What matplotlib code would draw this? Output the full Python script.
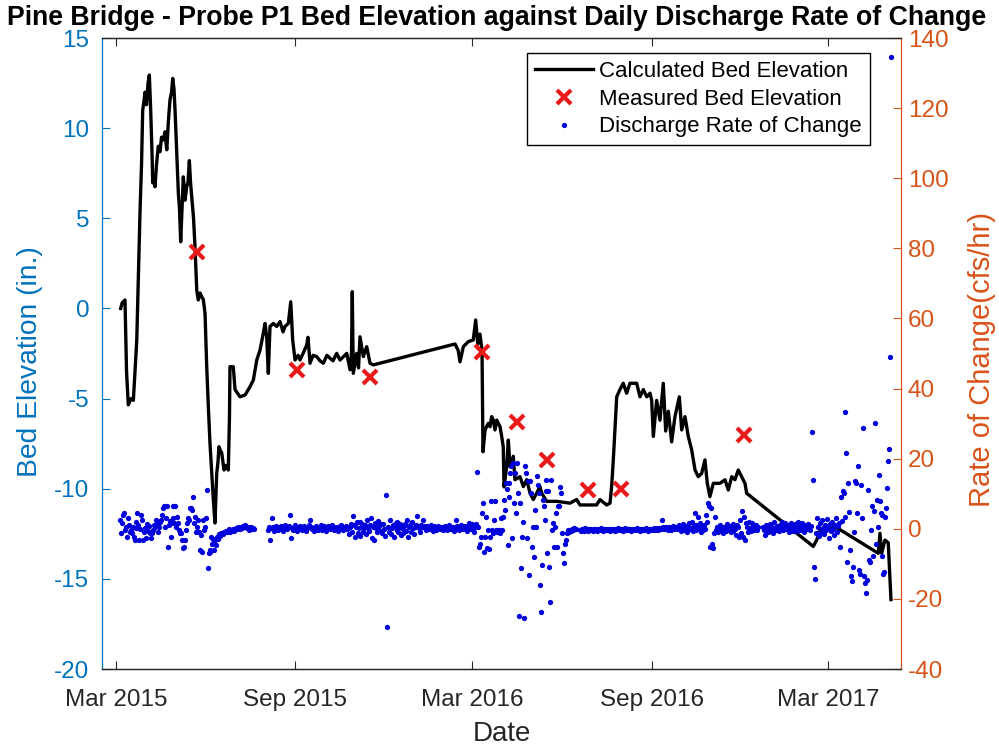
import numpy as np
import matplotlib
matplotlib.use("Agg")
import matplotlib.pyplot as plt
import matplotlib.dates as mdates
from datetime import date

plt.rcParams['font.family'] = ['Liberation Sans', 'DejaVu Sans']
plt.rcParams['axes.unicode_minus'] = False

BLUE_AX = (0.0, 0.447, 0.741)
ORANGE_AX = (0.85, 0.325, 0.098)
DARK = (0.15, 0.15, 0.15)

# ── calculated bed elevation (days since 2015-03-01, inches) ──
bed_day = [4.8, 6.2, 9.2, 10.8, 12.6, 15.4, 17.8, 19.5, 21.3, 23.1,
           24.6, 26.2, 27.4, 28.7, 29.8, 31.3, 32.9, 34.2, 35.6, 37.0,
           37.7, 39.0, 40.0, 41.6, 43.4, 45.2, 46.7, 48.6, 50.3, 52.1,
           53.9, 55.4, 57.0, 58.2, 59.5, 60.6, 62.1, 64.0, 65.2, 66.4,
           67.8, 69.1, 70.8, 72.6, 73.9, 75.3, 76.5, 77.7, 79.6, 81.1,
           82.9, 84.5, 86.2, 88.0, 89.6, 91.4, 93.1, 94.8, 96.5, 98.3,
           99.9, 101.6, 103.4, 104.7, 105.7, 107.3, 108.5, 110.9, 112.9, 115.3,
           116.5, 117.0, 120.4, 122.2, 127.3, 132.5, 137.6, 141.0, 144.5, 147.9,
           151.2, 153.0, 154.7, 156.4, 158.1, 161.5, 165.0, 168.4, 171.5, 173.5,
           176.9, 179.4, 181.4, 183.8, 186.9, 188.9, 192.0, 195.8, 197.1, 199.2,
           202.3, 206.1, 209.4, 212.8, 216.6, 219.7, 222.8, 226.6, 230.0, 233.1,
           236.9, 240.3, 241.8, 242.6, 243.6, 247.1, 249.0, 250.5, 253.9, 257.4,
           260.8, 264.2, 348.1, 351.4, 353.2, 356.6, 361.7, 366.8, 369.3, 371.4,
           373.7, 375.8, 376.8, 378.9, 382.2, 384.0, 385.7, 387.4, 389.1, 390.9,
           394.3, 396.0, 397.6, 398.4, 401.1, 402.8, 404.5, 407.9, 409.6, 414.8,
           418.2, 421.7, 425.1, 428.4, 431.9, 435.3, 437.1, 442.2, 452.5, 466.1,
           473.0, 476.4, 493.5, 496.9, 503.8, 507.2, 508.9, 510.6, 514.1, 517.4,
           520.8, 524.3, 527.7, 531.1, 534.6, 538.0, 541.4, 544.9, 548.3, 550.0,
           551.7, 555.1, 558.5, 561.9, 564.4, 567.1, 570.5, 573.9, 578.4, 580.8,
           584.2, 587.6, 591.1, 594.5, 597.8, 601.3, 604.7, 607.1, 609.8, 613.3,
           620.1, 625.3, 628.7, 632.2, 635.5, 638.9, 642.4, 645.8, 647.5, 715.9,
           719.4, 722.8, 729.7, 738.2, 782.7, 784.4, 786.2, 789.5, 792.9, 795.7]
bed_elev = [0.0, 0.3, 0.47, -3.5, -5.35, -5.0, -5.1, -3.5, -1.75, 2.0,
            5.3, 8.0, 11.0, 11.5, 12.0, 11.3, 12.5, 12.95, 11.0, 8.5,
            6.96, 7.2, 6.75, 8.0, 9.0, 8.7, 9.5, 9.35, 9.8, 8.8,
            10.5, 11.56, 12.0, 12.76, 12.2, 11.0, 9.0, 6.4, 5.5, 3.7,
            5.5, 7.3, 6.0, 6.75, 7.0, 8.2, 7.0, 6.2, 5.0, 3.4,
            1.0, 0.47, 0.86, 0.65, 0.5, -0.27, -3.2, -5.45, -7.5, -9.15,
            -10.6, -11.9, -9.15, -8.5, -7.67, -7.9, -8.0, -8.96, -8.7, -8.96,
            -6.0, -3.23, -3.23, -4.5, -4.9, -4.8, -4.34, -3.97, -2.86, -2.3,
            -1.38, -0.83, -1.57, -3.6, -1.0, -0.83, -1.0, -0.73, -1.3, -1.0,
            -0.83, 0.37, -1.75, -2.86, -2.6, -2.86, -2.5, -2.03, -1.6, -3.04,
            -2.6, -2.67, -2.9, -3.04, -2.6, -2.76, -2.9, -2.49, -2.86, -2.7,
            -2.49, -3.4, -2.5, 0.93, -3.6, -2.49, -3.3, -1.57, -2.67, -2.12,
            -3.04, -3.13, -1.97, -2.34, -2.96, -2.12, -1.84, -1.75, -0.64, -1.97,
            -1.42, -2.34, -7.95, -6.74, -6.37, -6.56, -6.0, -6.19, -6.74, -6.19,
            -6.56, -7.1, -7.67, -9.9, -8.78, -7.3, -8.78, -8.2, -9.5, -9.33,
            -9.88, -9.5, -10.25, -10.6, -10.25, -9.88, -10.25, -10.7, -10.7, -10.8,
            -10.6, -10.9, -10.9, -10.6, -10.9, -10.8, -9.88, -8.4, -4.9, -4.5,
            -4.15, -4.7, -4.15, -4.15, -4.15, -4.9, -4.5, -4.9, -4.7, -5.1,
            -7.1, -5.1, -6.2, -4.15, -6.8, -5.7, -7.4, -6.0, -4.9, -6.74,
            -6.0, -7.1, -7.85, -8.96, -9.33, -9.15, -8.4, -9.7, -10.44, -9.7,
            -9.7, -9.5, -10.07, -9.33, -9.5, -8.96, -9.33, -9.7, -10.25, -13.2,
            -12.85, -12.3, -12.3, -12.1, -13.58, -12.47, -13.58, -12.85, -13.0, -16.15]

# ── measured bed elevation ──
meas_day = [82.9, 185.5, 260.8, 375.5, 411.4, 442.8, 485.0, 519.0, 645.0]
meas_elev = [3.15, -3.4, -3.8, -2.4, -6.3, -8.4, -10.05, -10.0, -7.0]

# ── daily discharge rate of change (cfs/hr), consecutive days from each start ──
rate_a_start = '2015-03-05'
rate_a = [2.6, -1.3, 1.6, 4.0, 4.4, -0.3, 0.6, -2.2, 3.0, 1.0, -1.0,
          -0.3, -1.3, 0.6, -2.2, -3.2, 0.2, 2.0, 4.4, 1.0, -3.2, 0.0,
          4.0, 2.6, -3.2, -1.0, 0.3, -2.7, 1.5, -0.5, 0.8, -1.3,
          -2.7, -1.3, -0.3, 1.1, 0.6, 2.6, 1.6, -0.8, 0.4, 2.0,
          2.6, 4.0, 6.0, 6.4, 0.6, 3.0, 6.4, -5.1, 1.0, 2.2,
          -2.2, 1.6, 6.4, 3.0, 1.6, 6.4, 0.6, 3.4, 1.6, -0.3, -1.3,
          -1.3, -3.2, -5.6, -5.1, -3.2, -0.3, 1.6, 3.0, 2.6, 6.0,
          6.0, 5.5, 9.2, 1.6, 3.4, -0.8, 0.6, 2.6, -1.0, -6.0,
          -1.8, -6.5, 2.6, -0.3, 0.6, 3.0, 11.0, -11.2, -7.0, -6.5, -6.0,
          -2.2, -4.2, -3.0, -6.0, -3.2, -4.5, -2.2, -3.0, -1.6, -2.0, -1.3,
          -1.2, -1.5, -0.8, -1.0, -0.6, -0.9, -0.5, -0.2, -0.8, -0.4,
          -0.3, 0.0, -0.5, -0.2, 0.3, 0.0, 0.4, 0.2, -0.2, 0.5,
          0.3, 0.8, 0.4, 1.0, 0.5, 0.2, 0.6, 0.1, -0.3, 0.2, 0.4, 0.0, 0.3, -0.2]

rate_b_start = '2015-08-04'
rate_b = [-0.3, 0.5, -3.2, 0.2, 3.0, 0.4, -0.6, 0.2, 0.8, 0.3, -0.4, 0.0, 0.6, 0.9, 0.2, -0.5, 0.1, 0.4, 1.0, 0.3,
          -0.2, 0.5, 0.8, 4.0, -2.6, 0.3, -0.4, 0.6, 1.0, 0.2, -0.6, -0.2, 0.4, 0.9, 0.1, -0.3, 0.3, 0.7, 0.0, -0.5,
          0.2, 0.6, 1.2, 2.6, 0.5, -0.2, 0.3, -0.6, 0.1, 0.8, 0.4, -0.4, 0.0, 0.6, 1.0, 0.2, -0.3, 0.5, 0.9, 0.1,
          -0.5, 0.2, 0.7, 0.3, -0.2, 0.4, 1.1, 0.5, -0.4, 0.0, 0.6, 0.2, -0.6, 0.3, 0.8, 1.2, 0.4, -0.3, 0.1, 0.6,
          0.9, -0.2, 0.3, -1.5, 0.5, 1.4, -0.8, 3.7, 1.0, -2.2, 0.4, 1.8, -1.2, 0.2, 2.0, -2.0, 0.6, 1.5, -0.9, 0.3,
          1.2, -1.6, 2.4, 0.1, -0.7, 1.0, 3.0, -2.7, 0.5, -3.2, 1.6, 0.2, -1.0, 2.2, 0.8, -0.5, 1.3, -1.3, 1.4, 0.0,
          -2.0, 9.5, -27.9, 0.6, -0.8, 2.4, -1.5, 0.3, 1.1, -2.2, 0.7, 1.6, -0.4, 2.0, -1.0, 0.5, 1.3, -1.8, 0.2, -1.3,
          0.8, 1.5, -0.6, 2.6, -2.2, 0.4, 1.0, -0.9, 1.8, 0.1, -1.4, 0.6, 1.2, 3.7, 0.9, 0.3, -0.8, 1.1, 0.5, 2.6,
          0.7, 0.2, -0.4, 0.9, 0.4, -0.1, 0.6, 1.0, 0.2, -0.5, 0.3, 0.8, 0.1, -0.3, 0.5, 0.9, 0.3, -0.2, 0.6, 0.2,
          -0.4, 0.4, 0.8, 0.1, -0.3, 0.5, 1.0, 0.3, -0.2, 0.6, 0.2, -0.5, 0.4, 2.6, 0.7, 0.0, -0.4, 0.5, 1.1, 0.3,
          -0.2, 0.6, 0.9, 0.2, -0.6, 0.3, 1.6, 0.5, 0.0, 0.8, 1.3, 0.2, -1.0, 0.6, 1.4]

rate_c_start = '2016-03-06'
rate_c = [16.3, 0.6, -5.1, -4.2, -2.2,
          4.4, 7.3, -6.5, -2.2, 3.4, -5.6, -0.3,
          -5.8, -2.2, 7.8, -0.3, -1.3,
          2.6, 7.8, -0.3, -0.8, -0.3,
          -0.3, -1.3, 3.0, -0.3,
          3.4, 8.3, 5.4, 13.0, 11.4, -4.7,
          9.2, 13.0, 15.9, 17.8, -2.7,
          18.7, 7.3, 15.9, 4.4, 18.7,
          10.2, -25.0, 7.3, -11.2, -2.2, 2.0, -25.4,
          17.8, 15.9, -2.7, 13.5,
          -13.2, 13.5, 10.2, -5.1, 0.6,
          -8.0, 5.4, 0.6, 15.0,
          12.5, 10.2, -16.0, -23.6, -10.3,
          8.3, 6.4, 2.6, 10.7, 14.0,
          -7.0, 10.7, -10.8, -20.8, 14.0,
          -0.3, 1.6, -5.1,
          0.6, 4.4, -5.1, 6.4,
          6.4, 12.0, 10.2, -1.3,
          -7.0, -9.8, -4.2, -3.2,
          -1.3, -0.3, -0.8, -0.3, -0.5, 0.0, -0.3, 0.2, -0.2, 0.0]

rate_d_start = '2016-06-19'
rate_d = [-0.3, -0.5, 0.0, -0.2, -0.6, -0.3, 0.1, -0.4, -0.2, -0.5, 0.0, -0.3, -0.1, -0.4, -0.6, -0.2, 0.0, -0.3, -0.5, -0.1,
          -0.4, -0.2, 0.1, -0.3, -0.5, -0.1, -0.3, 0.0, -0.4, -0.2, -0.3, -0.6, -0.1, 0.0, -0.3, -0.2, -0.5, -0.1, -0.3, 0.1,
          -0.2, -0.4, 0.0, -0.3, -0.1, -0.5, -0.2, 0.1, -0.3, -0.4, -0.1, 0.0, -0.2, -0.5, -0.3, 0.0, -0.1, -0.4, -0.2, 0.1,
          -0.3, -0.1, -0.5, -0.2, 0.0, -0.3, -0.4, -0.1, 0.2, -0.2, -0.5, -0.3, 0.0, -0.1, -0.4, -0.2, 0.1, -0.3, -0.1, 0.2,
          -0.2, -0.4, 0.0, 0.3, -0.1, 2.6, 0.4, -0.2, 0.1, 0.5, 0.2, -0.3, 0.6, 0.0, -0.4, 0.3, 0.8, -0.1, 0.2, 0.5,
          -0.2, 0.4, 1.0, 0.1, -0.5, 0.6, 1.4, -0.3, 0.2, 0.9, -0.8, 0.5, 1.6, -0.2, 0.3, 2.0, -0.6, 0.8, 4.4, 1.0,
          -0.4, 0.6, 3.4, 0.2, 1.6, -1.0, 0.4, -0.3, 1.2, 0.0, 4.0, 2.0, 7.3, 6.6, -5.1, 5.9, -4.2, -5.6, -1.3, 3.4,
          -0.3, 0.5, -0.8, 0.2, 1.0, -0.4, 0.3, -1.2, 0.6, 0.1, -0.6, 1.3, 0.4, -0.2, 0.8, -1.0, 0.2, 1.5, -0.5, 0.6,
          0.0, -1.8, 1.2, 0.4, -2.2, 2.6, -1.3, 5.0, -2.2, 3.4, -3.2, 1.6, 0.6, -0.8, 2.0, 0.3, -0.5, 1.6, 0.9, -0.4,
          0.2, 1.1, -0.3, 0.6]

rate_e_start = '2016-12-24'
rate_e = [0.6, -0.3, -1.8, 1.0, 0.2, -0.8, 0.4, 1.5, -0.5, 0.0, 0.6, -1.3, 2.0, 0.3, -0.3, 0.9, 0.6,
          -0.6, 1.2, 0.1, 2.0, -0.4, 0.6, 1.6, -0.2, 0.3, 1.0, -0.8, 0.5, 1.6, 0.2, -0.5, 0.8, 1.3,
          0.0, -0.6, 1.8, 0.4, -0.3, 0.7, 1.6, 0.2, -0.9, 0.5, 1.0, -0.2, 0.6, 1.4, 0.1, -0.4, 0.8,
          27.7, 14.0, -10.8, -14.4,
          -1.3, 3.0, 0.5, -2.0, 1.6, -0.8, 2.4, 0.2, -1.5, 1.0, -0.3, 2.8, 0.6, -2.5, 1.4, -0.6,
          2.0, 0.0, -1.8, 1.2, 3.0, -1.0, 0.8, 1.6, -5.1, 9.2, 2.2, 10.7, 10.2,
          33.4, 3.4, 21.5, -9.4, 13.0, 4.9, -6.0, -13.6, -15.0, -10.8, -0.8, 13.5, 13.0, 4.4,
          17.8, -11.8, -12.8, 12.5, 3.0, 28.8, -13.6, -15.5, -18.4, -14.6, 11.1, -8.9, -9.4,
          -0.3, 6.4, -7.9, 5.0, 30.1, -4.2, 8.3, 0.6, 15.4, 7.8, 4.4, -7.9, 4.0, -12.8, -12.2,
          3.4, 5.9, 11.6, 19.3, 22.8, 48.9, 134.5]

rate_segments = [(rate_a_start, rate_a), (rate_b_start, rate_b), (rate_c_start, rate_c),
                 (rate_d_start, rate_d), (rate_e_start, rate_e)]

origin = mdates.date2num(date(2015, 3, 1))

fig = plt.figure(figsize=(9.99, 7.46), dpi=100)
ax = fig.add_axes([0.1021, 0.1032, 0.7998, 0.8458])

ln_bed, = ax.plot(origin + np.array(bed_day), bed_elev, color='black', lw=2.4,
                  label='Calculated Bed Elevation')
ln_meas, = ax.plot(origin + np.array(meas_day), meas_elev, ls='none', marker='x',
                   color=(0.92, 0.1, 0.1), ms=10, mew=3, label='Measured Bed Elevation')

ax2 = ax.twinx()
rate_x = np.concatenate([mdates.datestr2num(s) + np.arange(len(v)) for s, v in rate_segments])
rate_y = np.concatenate([np.array(v, dtype=float) for s, v in rate_segments])
ln_rate, = ax2.plot(rate_x, rate_y, ls='none', marker='o', color='#0000dd', ms=3.8, mew=0,
                    label='Discharge Rate of Change')

# 坐标范围
ax.set_xlim(origin - 14.4, origin + 806)
ax.set_ylim(-20, 15)
ax.set_yticks(range(-20, 16, 5))
ax2.set_ylim(-40, 140)
ax2.set_yticks(range(-40, 141, 20))

ax.xaxis.set_major_locator(mdates.MonthLocator(bymonth=[3, 9]))
ax.xaxis.set_major_formatter(mdates.DateFormatter('%b %Y'))

# 刻度与轴
ax.tick_params(axis='y', colors=BLUE_AX, direction='in', length=6, width=0.8, labelsize=17.5, pad=9)
ax.tick_params(axis='x', colors=DARK, direction='in', length=6, width=0.8, labelsize=17.5,
               top=True, pad=14.5)
ax2.tick_params(axis='y', colors=ORANGE_AX, direction='in', length=6, width=0.8, labelsize=17.5, pad=5)

ax.spines['left'].set_color(BLUE_AX)
ax.spines['right'].set_visible(False)
ax2.spines['left'].set_visible(False)
ax2.spines['right'].set_color(ORANGE_AX)
for a in (ax, ax2):
    for s in ('top', 'bottom'):
        a.spines[s].set_color(DARK)
    for s in a.spines.values():
        s.set_linewidth(0.9)

# 轴标签
ax.set_ylabel('Bed Elevation (in.)', color=BLUE_AX, fontsize=20.3, va='center')
ax.yaxis.set_label_coords(-0.090, 0.4865)
ax2.set_ylabel('Rate of Change(cfs/hr)', color=ORANGE_AX, fontsize=21, va='center')
ax2.yaxis.set_label_coords(1.1014, 0.491)
ax.set_xlabel('Date', color=DARK, fontsize=20, labelpad=7)

fig.text(0.4975, 1 - 18 / 746, 'Pine Bridge - Probe P1 Bed Elevation against Daily Discharge Rate of Change',
         ha='center', va='center', fontsize=19.2, fontweight='bold', color='black')

leg = ax2.legend([ln_bed, ln_meas, ln_rate],
                 ['Calculated Bed Elevation', 'Measured Bed Elevation', 'Discharge Rate of Change'],
                 loc='upper right', bbox_to_anchor=(0.961, 0.976), fontsize=16, frameon=True,
                 fancybox=False, edgecolor='black', framealpha=1, handlelength=2.6,
                 handletextpad=0.3, labelspacing=0.3, borderpad=0.35, borderaxespad=0)
leg.get_frame().set_linewidth(1.0)

fig.savefig('out.png', dpi=100, facecolor='white')
plt.close(fig)
